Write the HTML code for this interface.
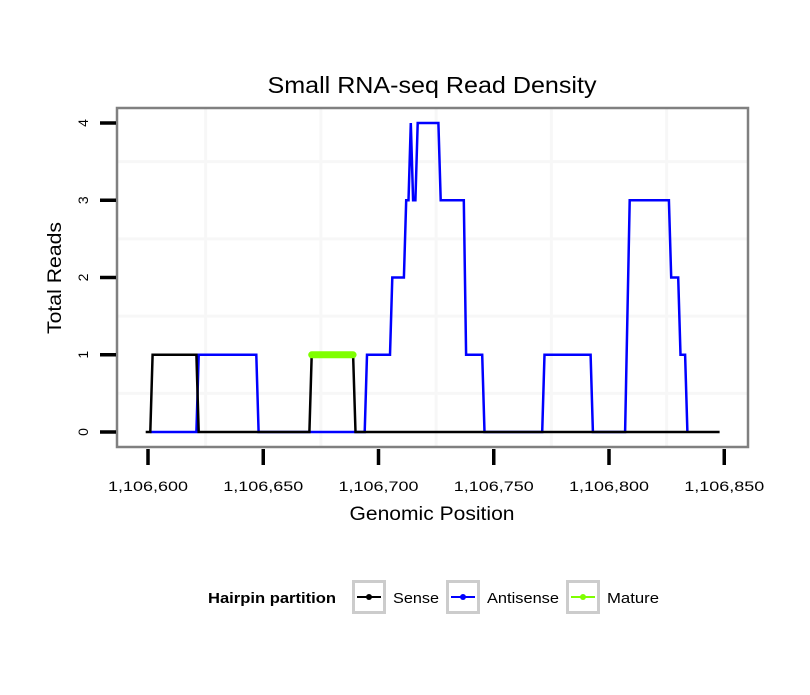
<!DOCTYPE html>
<html><head><meta charset="utf-8"><style>
body{margin:0;background:#fff}
svg text{font-family:"Liberation Sans",sans-serif}
</style></head><body>
<svg id="chart" width="810" height="690" viewBox="0 0 810 690" xmlns="http://www.w3.org/2000/svg">
<rect width="810" height="690" fill="#fff"/>
<text x="432" y="93" font-size="23" text-anchor="middle" textLength="329" lengthAdjust="spacingAndGlyphs">Small RNA-seq Read Density</text>
<rect x="117" y="108" width="631" height="339" fill="#fff"/>
<g id="grid"></g>
<g id="series"></g>
<rect x="117" y="108" width="631" height="339" fill="none" stroke="#808080" stroke-width="2.5"/>
<g id="axes"></g>
<text x="432" y="520" font-size="19" text-anchor="middle" textLength="165" lengthAdjust="spacingAndGlyphs">Genomic Position</text>
<text transform="translate(61,278) rotate(-90)" font-size="19" text-anchor="middle" textLength="112" lengthAdjust="spacingAndGlyphs">Total Reads</text>
<g>
<text x="208" y="603" font-size="15" font-weight="bold" textLength="128" lengthAdjust="spacingAndGlyphs">Hairpin partition</text>
<g>
<rect x="353.5" y="581.5" width="31" height="31" fill="#fff" stroke="#ccc" stroke-width="3"/>
<line x1="357" y1="597" x2="381" y2="597" stroke="#000" stroke-width="2"/><circle cx="369" cy="597" r="3" fill="#000"/>
<text x="393" y="603" font-size="15" textLength="46" lengthAdjust="spacingAndGlyphs">Sense</text></g>
<g>
<rect x="447.5" y="581.5" width="31" height="31" fill="#fff" stroke="#ccc" stroke-width="3"/>
<line x1="451" y1="597" x2="475" y2="597" stroke="#00f" stroke-width="2"/><circle cx="463" cy="597" r="3" fill="#00f"/>
<text x="487" y="603" font-size="15" textLength="72" lengthAdjust="spacingAndGlyphs">Antisense</text></g>
<g>
<rect x="567.5" y="581.5" width="31" height="31" fill="#fff" stroke="#ccc" stroke-width="3"/>
<line x1="571" y1="597" x2="595" y2="597" stroke="#7fff00" stroke-width="2"/><circle cx="583" cy="597" r="3" fill="#7fff00"/>
<text x="607" y="603" font-size="15" textLength="52" lengthAdjust="spacingAndGlyphs">Mature</text></g>
</g>
</svg>
<script>
const xTicks=[1106600,1106650,1106700,1106750,1106800,1106850];
const xTickLabels=["1,106,600","1,106,650","1,106,700","1,106,750","1,106,800","1,106,850"];
const yTicks=[0,1,2,3,4];
const xGrid=[1106625,1106675,1106725,1106775,1106825];
const yGrid=[0.5,1.5,2.5,3.5];
const antisensePos=[1106601,1106621,1106622,1106647,1106648,1106694,1106695,1106705,1106706,1106711,1106712,1106713,1106714,1106715,1106716,1106717,1106726,1106727,1106737,1106738,1106745,1106746,1106771,1106772,1106792,1106793,1106807,1106809,1106826,1106827,1106830,1106831,1106833,1106834];
const antisenseVal=[0,0,1,1,0,0,1,1,2,2,3,3,4,3,3,4,4,3,3,1,1,0,0,1,1,0,0,3,3,2,2,1,1,0];
const sensePos=[1106599,1106601,1106602,1106621,1106622,1106670,1106671,1106689,1106690,1106831,1106848];
const senseVal=[0,0,1,1,0,0,1,1,0,0,0];
const maturePos=[1106671,1106689];
const matureVal=[1,1];
const NS="http://www.w3.org/2000/svg";
const xs=v=>148+(v-1106600)*2.305;
const ys=v=>432-v*77.25;
function mk(tag,attrs,parent){const e=document.createElementNS(NS,tag);for(const k in attrs)e.setAttribute(k,attrs[k]);parent.appendChild(e);return e;}
const grid=document.getElementById('grid'),axes=document.getElementById('axes'),series=document.getElementById('series');
xGrid.forEach(v=>{const l=mk('line',{x1:xs(v),x2:xs(v),y1:108,y2:447,stroke:'#f7f7f7','stroke-width':3},grid);

});
yGrid.forEach(v=>{const l=mk('line',{x1:117,x2:748,y1:ys(v),y2:ys(v),stroke:'#f7f7f7','stroke-width':3},grid);

});
xTicks.forEach((v,i)=>{const t=mk('line',{x1:xs(v),x2:xs(v),y1:449,y2:465,stroke:'#000','stroke-width':3.5},axes);


const tx=mk('text',{x:xs(v),y:491,'font-size':14,'text-anchor':'middle',textLength:80,lengthAdjust:'spacingAndGlyphs'},axes);tx.textContent=xTickLabels[i];

});
yTicks.forEach(v=>{const t=mk('line',{x1:100,x2:116,y1:ys(v),y2:ys(v),stroke:'#000','stroke-width':3.5},axes);


const tx=mk('text',{transform:`translate(88,${ys(v)}) rotate(-90)`,'font-size':14,'text-anchor':'middle'},axes);tx.textContent=v;

});
function path(pos,val,color,w,name){const d=pos.map((p,i)=>(i?'L':'M')+xs(p).toFixed(1)+','+ys(val[i]).toFixed(1)).join('');
const p=mk('path',{d:d,fill:'none',stroke:color,'stroke-width':w,'stroke-linejoin':'miter','stroke-linecap':name==='mature-line'?'round':'butt'},series);

}
path(antisensePos,antisenseVal,'#00f',2.5,'antisense-line');
path(sensePos,senseVal,'#000',2.5,'sense-line');
path(maturePos,matureVal,'#7fff00',7,'mature-line');
</script>
</body></html>
